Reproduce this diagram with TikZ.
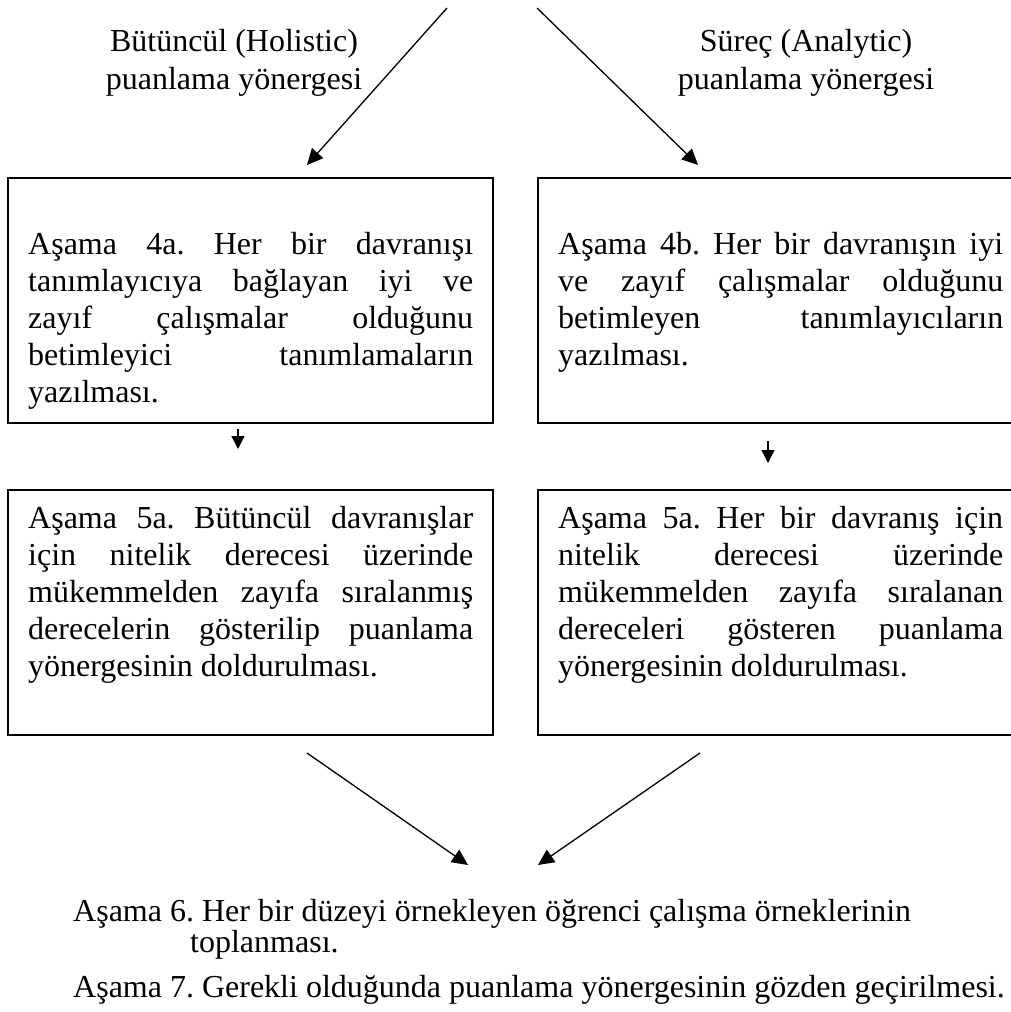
\documentclass[tikz,border=0pt]{standalone}
\usepackage{fontspec}
\setmainfont{Liberation Serif}
\usetikzlibrary{arrows.meta}
\tikzset{
  boxst/.style={draw, line width=1.8pt, inner sep=0pt, anchor=north west,
    minimum width=485pt, minimum height=245pt},
  txt/.style={inner sep=0pt, anchor=base west},
  lbl/.style={inner sep=0pt, anchor=base},
  bigarrow/.style={line width=1.3pt, -{Triangle[length=16pt,width=15pt]}},
  smallarrow/.style={line width=1.3pt, -{Triangle[length=13pt,width=13pt]}},
}
\newcommand{\jl}[1]{\hbox to 445pt{#1}}
\newcommand{\bodyfont}{\fontsize{32}{37}\selectfont\frenchspacing}
\begin{document}
\begin{tikzpicture}[x=1pt,y=-1pt]
\useasboundingbox (0,0) rectangle (1011,1012);
\clip (0,0) rectangle (1011,1012);

% top labels
\node[lbl] (lh) at (234,51) {\parbox[t]{340pt}{\centering\fontsize{32}{38}\selectfont Bütüncül (Holistic)\\puanlama yönergesi}};
\node[lbl] (la) at (806,51) {\parbox[t]{340pt}{\centering\fontsize{32}{38}\selectfont Süreç (Analytic)\\puanlama yönergesi}};

% boxes
\node[boxst] (b1) at (7,177) {};
\node[boxst] (b2) at (537,177) {};
\node[boxst] (b3) at (7,489) {};
\node[boxst] (b4) at (537,489) {};

% box texts
\node[txt] (t1) at (28,254) {\parbox[t]{445pt}{\bodyfont
\jl{Aşama 4a. Her bir davranışı}
\jl{tanımlayıcıya bağlayan iyi ve}
\jl{zayıf çalışmalar olduğunu}
\jl{betimleyici tanımlamaların}
\hbox{yazılması.}}};
\node[txt] (t2) at (558,254) {\parbox[t]{445pt}{\bodyfont
\jl{Aşama 4b. Her bir davranışın iyi}
\jl{ve zayıf çalışmalar olduğunu}
\jl{betimleyen tanımlayıcıların}
\hbox{yazılması.}}};
\node[txt] (t3) at (28,528) {\parbox[t]{445pt}{\bodyfont
\jl{Aşama 5a. Bütüncül davranışlar}
\jl{için nitelik derecesi üzerinde}
\jl{mükemmelden zayıfa sıralanmış}
\jl{derecelerin gösterilip puanlama}
\hbox{yönergesinin doldurulması.}}};
\node[txt] (t4) at (558,528) {\parbox[t]{445pt}{\bodyfont
\jl{Aşama 5a. Her bir davranış için}
\jl{nitelik derecesi üzerinde}
\jl{mükemmelden zayıfa sıralanan}
\jl{dereceleri gösteren puanlama}
\hbox{yönergesinin doldurulması.}}};

% bottom texts
\node[txt] (s6) at (73,921) {\parbox[t]{930pt}{\fontsize{32}{31}\selectfont\frenchspacing
\hbox{Aşama 6. Her bir düzeyi örnekleyen öğrenci çalışma örneklerinin}
\hbox{\hspace*{117pt}toplanması.}}};
\node[txt] (s7) at (73,997) {\fontsize{32}{31}\selectfont\frenchspacing Aşama 7. Gerekli olduğunda puanlama yönergesinin gözden geçirilmesi.};

% arrow coordinates
\coordinate (a1s) at (447,8);   \coordinate (a1e) at (307,165);
\coordinate (a2s) at (537,8);   \coordinate (a2e) at (698,165);
\coordinate (a3s) at (238,429); \coordinate (a3e) at (238,449);
\coordinate (a4s) at (768,441); \coordinate (a4e) at (768,463);
\coordinate (a5s) at (307,753); \coordinate (a5e) at (468,865);
\coordinate (a6s) at (700,753); \coordinate (a6e) at (538,865);

\draw[bigarrow] (a1s) -- (a1e);
\draw[bigarrow] (a2s) -- (a2e);
\draw[smallarrow] (a3s) -- (a3e);
\draw[smallarrow] (a4s) -- (a4e);
\draw[bigarrow] (a5s) -- (a5e);
\draw[bigarrow] (a6s) -- (a6e);
\end{tikzpicture}
\end{document}
